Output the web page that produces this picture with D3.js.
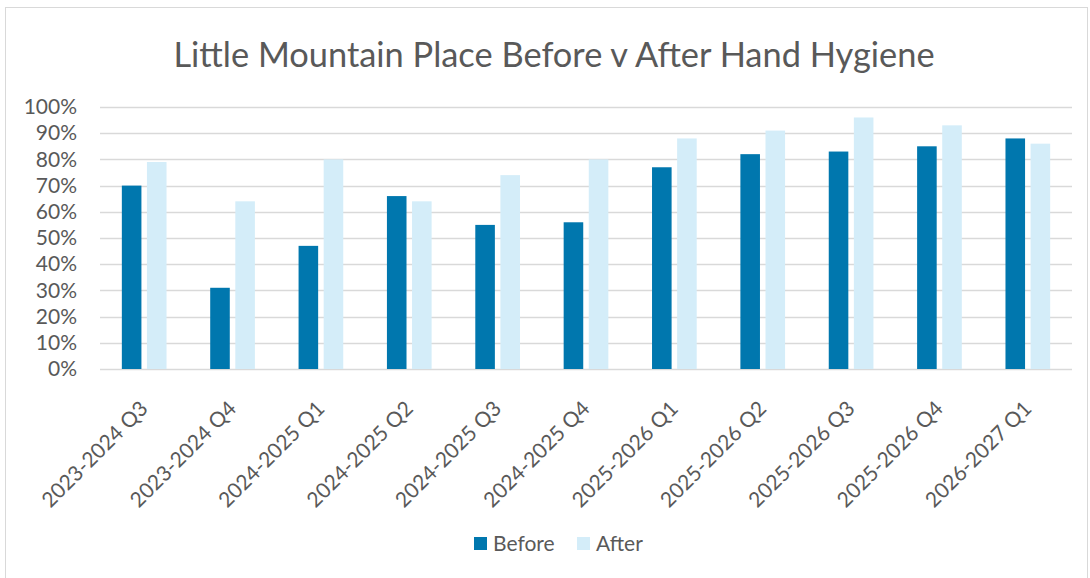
<!DOCTYPE html>
<html>
<head>
<meta charset="utf-8">
<script src="https://cdn.jsdelivr.net/npm/d3@7"></script>
<style>
  body { margin: 0; background: #fff; }
  svg { display: block; font-family: Lato, "Open Sans", sans-serif; }
</style>
</head>
<body>
<svg id="chart" width="1090" height="578"></svg>
<script>
// data
var quarters = ["2023-2024 Q3", "2023-2024 Q4", "2024-2025 Q1", "2024-2025 Q2", "2024-2025 Q3",
    "2024-2025 Q4", "2025-2026 Q1", "2025-2026 Q2", "2025-2026 Q3", "2025-2026 Q4", "2026-2027 Q1"];
var before = [0.70, 0.31, 0.47, 0.66, 0.55, 0.56, 0.77, 0.82, 0.83, 0.85, 0.88];
var after = [0.79, 0.64, 0.80, 0.64, 0.74, 0.80, 0.88, 0.91, 0.96, 0.93, 0.86];
var seriesNames = ["Before", "After"];
var seriesColors = ["#0077ae", "#d4edf9"];
var yTicks = [0, 0.1, 0.2, 0.3, 0.4, 0.5, 0.6, 0.7, 0.8, 0.9, 1.0];

chart();

function chart() {
    var svg = d3.select("#chart"),
        margin = {top: 107, left: 100, bottom: 209, right: 18},
        width = +svg.attr("width"),
        height = +svg.attr("height");

    // outer chart border
    svg.append("rect")
        .attr("x", 5.5).attr("y", 7.5)
        .attr("width", width - 8).attr("height", height)
        .attr("fill", "none").attr("stroke", "#d9d9d9").attr("stroke-width", 1);

    svg.append("text")
        .attr("x", 554).attr("y", 67)
        .attr("text-anchor", "middle")
        .attr("fill", "#595959")
        .style("font-size", "34.4px")
        .text("Little Mountain Place Before v After Hand Hygiene");

    var x = d3.scaleBand()
        .domain(quarters)
        .range([margin.left, width - margin.right]);

    // inner scale for the two bars of a quarter
    var x1 = d3.scaleBand()
        .domain(seriesNames)
        .range([0, x.bandwidth()])
        .paddingInner(0.22)
        .paddingOuter(0.87);

    var y = d3.scaleLinear()
        .domain([0, 1])
        .range([height - margin.bottom, margin.top]);

    // gridlines
    svg.append("g")
        .selectAll("line")
        .data(yTicks)
        .join("line")
        .attr("x1", margin.left).attr("x2", width - margin.right)
        .attr("y1", d => Math.round(y(d)) + 0.5).attr("y2", d => Math.round(y(d)) + 0.5)
        .attr("stroke", "#d9d9d9").attr("stroke-width", 1.3);

    // y axis labels
    var yAxis = svg.append("g")
        .attr("transform", `translate(${margin.left - 23},0)`)
        .call(d3.axisLeft(y).tickValues(yTicks).tickFormat(d3.format(".0%")).tickSize(0).tickPadding(0));
    yAxis.select(".domain").remove();
    yAxis.selectAll("text")
        .attr("fill", "#595959")
        .style("font-size", "21px")
        .style("font-family", "Lato, sans-serif");

    // bars
    var rows = quarters.map((q, i) => ({quarter: q, Before: before[i], After: after[i]}));

    var groups = svg.append("g")
        .selectAll("g")
        .data(rows)
        .join("g")
        .attr("transform", d => `translate(${x(d.quarter)},0)`);

    groups.selectAll("rect")
        .data(d => seriesNames.map((k, j) => ({key: k, value: d[k], color: seriesColors[j]})))
        .join("rect")
        .attr("x", d => x1(d.key))
        .attr("width", x1.bandwidth())
        .attr("y", d => y(d.value))
        .attr("height", d => y(0) - y(d.value))
        .attr("fill", d => d.color);

    // x axis labels, rotated like the original
    var xAxis = svg.append("g")
        .attr("transform", `translate(0,${y(0)})`)
        .call(d3.axisBottom(x).tickSize(0).tickPadding(0));
    xAxis.select(".domain").remove();
    xAxis.selectAll("text")
        .attr("fill", "#595959")
        .style("font-size", "21px")
        .style("font-family", "Lato, sans-serif")
        .attr("text-anchor", "end")
        .attr("dy", 0)
        .attr("y", 0)
        .attr("transform", "translate(5,41) rotate(-45)");

    // legend
    var legend = svg.append("g").attr("transform", "translate(474,537)");
    var items = legend.selectAll("g")
        .data(seriesNames)
        .join("g")
        .attr("transform", (d, i) => `translate(${i * 103},0)`);
    items.append("rect")
        .attr("width", 13).attr("height", 13)
        .attr("fill", (d, i) => seriesColors[i]);
    items.append("text")
        .attr("x", 19).attr("y", 14)
        .attr("fill", "#595959")
        .style("font-size", "21px")
        .text(d => d);
}
</script>
</body>
</html>
